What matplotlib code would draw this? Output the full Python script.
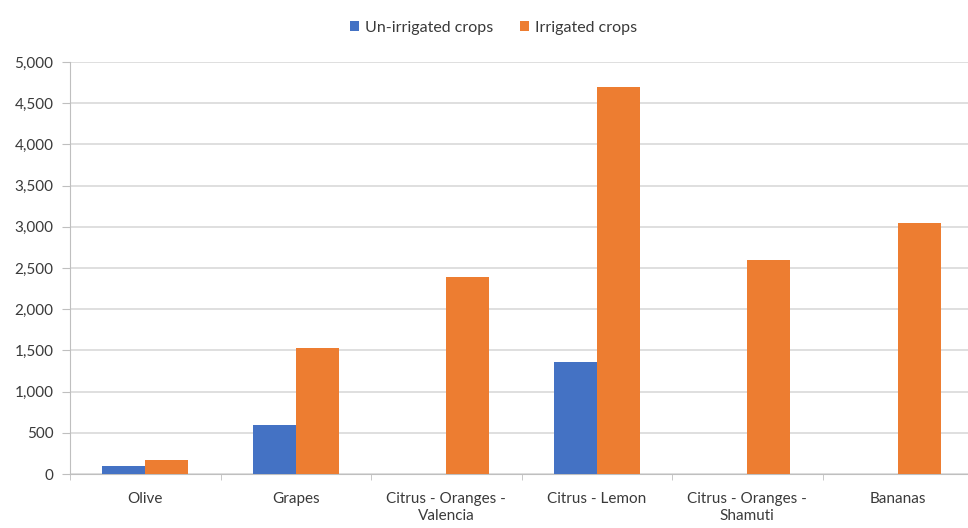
import numpy as np
import matplotlib.pyplot as plt
from matplotlib.ticker import FuncFormatter

plt.rcParams["font.family"] = ["Lato", "DejaVu Sans"]

categories = ["Olive", "Grapes", "Citrus - Oranges -\nValencia", "Citrus - Lemon",
              "Citrus - Oranges -\nShamuti", "Bananas"]
unirrigated = [100, 590, 0, 1360, 0, 0]
irrigated = [170, 1530, 2390, 4700, 2600, 3050]

fig = plt.figure(figsize=(9.68, 5.28), dpi=100)
# plot area runs a little past the right edge, as in the original crop
ax = fig.add_axes([70 / 968, 1 - 474 / 528, 903 / 968, 412 / 528])

x = np.arange(len(categories))
w = 0.286
ax.bar(x - w / 2, unirrigated, w, color="#4472C4", label="Un-irrigated crops", zorder=3)
ax.bar(x + w / 2, irrigated, w, color="#ED7D31", label="Irrigated crops", zorder=3)

ax.set_xlim(-0.5, len(categories) - 0.5)
ax.set_ylim(0, 5000)
ax.set_yticks(np.arange(0, 5001, 500))
ax.yaxis.set_major_formatter(FuncFormatter(lambda v, p: f"{int(v):,}"))
ax.set_xticks(x)
ax.set_xticklabels(categories, linespacing=1.25)
ax.set_xticks(np.arange(-0.5, len(categories)), minor=True)
ax.tick_params(axis="x", which="major", length=0, pad=13)
ax.tick_params(axis="x", which="minor", length=4, color="#BFBFBF")
ax.tick_params(axis="y", length=6, color="#BFBFBF", pad=6)
ax.tick_params(labelsize=11, labelcolor="#3A3A3A")

ax.grid(axis="y", color="#D9D9D9", linewidth=1.2, zorder=0)
for s in ["top", "right"]:
    ax.spines[s].set_visible(False)
ax.spines["left"].set_color("#BFBFBF")
ax.spines["bottom"].set_color("#BFBFBF")

fig.legend(loc="upper center", bbox_to_anchor=(0.51, 0.988), ncol=2, frameon=False,
           fontsize=11.5, handlelength=0.55, handleheight=0.55, columnspacing=1.7,
           handletextpad=0.4, labelcolor="#3A3A3A")

fig.savefig("out.png", dpi=100)
